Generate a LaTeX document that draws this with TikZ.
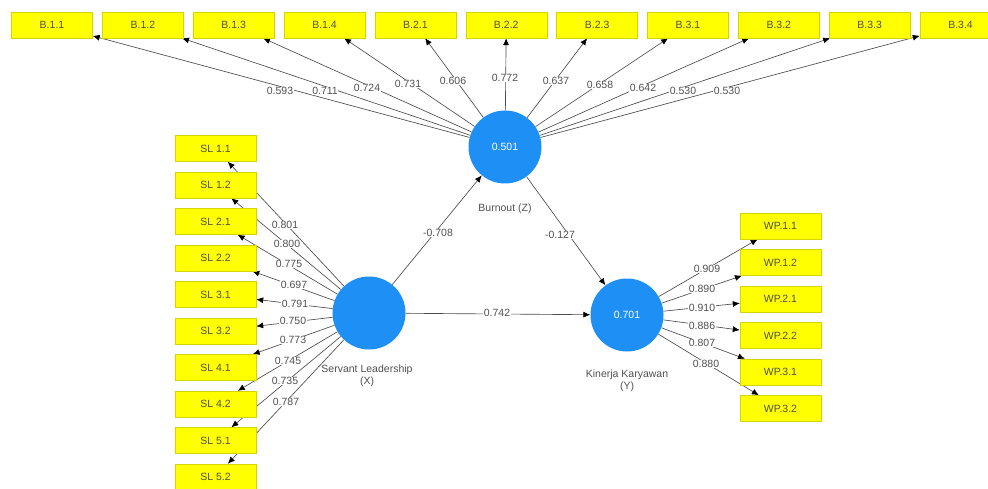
\documentclass[tikz,border=0pt]{standalone}
\usepackage{fontspec}
\setmainfont{Liberation Sans}
\usetikzlibrary{arrows.meta,backgrounds,calc}
\definecolor{latent}{RGB}{30,143,245}
\definecolor{indfill}{RGB}{255,255,0}
\definecolor{indline}{RGB}{212,212,0}
\definecolor{wirecol}{RGB}{75,75,75}
\definecolor{txt}{RGB}{80,80,80}
\newcommand{\smallfont}{\fontsize{10.5}{12.5}\selectfont}
\begin{document}
\begin{tikzpicture}[x=1pt,y=-1pt,
  ind/.style={draw=indline, fill=indfill, line width=0.4pt, minimum width=81pt,
    minimum height=26pt, inner sep=0pt, text=txt, font=\smallfont},
  lv/.style={circle, fill=latent, minimum size=73pt, inner sep=0pt, text=white, font=\smallfont},
  wire/.style={draw=wirecol, line width=0.65pt, -{Latex[length=7pt,width=6pt,color=black]}},
  lbl/.style={fill=white, inner sep=0.6pt, text=txt, font=\smallfont},
  lvname/.style={text=txt, align=center, font=\smallfont, inner sep=0pt}]
\useasboundingbox (0,0) rectangle (988,489);

% latent variables
\node[lv] (bz) at (505,147) {0.501};
\node[lv] (sl) at (369,313) {};
\node[lv] (ky) at (627,315) {0.701};

\node[lvname] (bzname) at (505,209) {Burnout (Z)};
\node[lvname] (slname) at (367,376) {Servant Leadership\\(X)};
\node[lvname] (kyname) at (627,381) {Kinerja Karyawan\\(Y)};

% Burnout indicators
\foreach \n/\t [count=\i from 0] in {B11/B.1.1,B12/B.1.2,B13/B.1.3,B14/B.1.4,B21/B.2.1,B22/B.2.2,
    B23/B.2.3,B31/B.3.1,B32/B.3.2,B33/B.3.3,B34/B.3.4}
  \node[ind] (\n) at ({52+90.85*\i},25) {\t};

% Servant Leadership indicators
\foreach \n/\t [count=\i from 0] in {S11/SL 1.1,S12/SL 1.2,S21/SL 2.1,S22/SL 2.2,S31/SL 3.1,
    S32/SL 3.2,S41/SL 4.1,S42/SL 4.2,S51/SL 5.1,S52/SL 5.2}
  \node[ind] (\n) at (215.5,{148.5+36.5*\i}) {\t};

% Kinerja Karyawan indicators
\foreach \n/\t [count=\i from 0] in {W11/WP.1.1,W12/WP.1.2,W21/WP.2.1,W22/WP.2.2,W31/WP.3.1,W32/WP.3.2}
  \node[ind] (\n) at (780.5,{226+36.5*\i}) {\t};

% connectors behind the boxes
\begin{scope}[on background layer]
  \foreach \n in {B11,B12,B13,B14,B21,B22,B23,B31,B32,B33,B34}
    \draw[wire] (bz) -- (\n);
  \foreach \n in {S11,S12,S21,S22,S31,S32,S41,S42,S51,S52}
    \draw[wire] (sl) -- (\n);
  \foreach \n in {W11,W12,W21,W22,W31,W32}
    \draw[wire] (ky) -- (\n);
  \draw[wire] (sl) -- (bz);
  \draw[wire] (bz) -- (ky);
  \draw[wire] (sl) -- (ky);
\end{scope}

% outer loadings, Burnout
\node[lbl] (lb11) at (280,91) {0.593};
\node[lbl] (lb12) at (325,91) {0.711};
\node[lbl] (lb13) at (367,88) {0.724};
\node[lbl] (lb14) at (408,84) {0.731};
\node[lbl] (lb21) at (453,81) {0.606};
\node[lbl] (lb22) at (505,78) {0.772};
\node[lbl] (lb23) at (556,81) {0.637};
\node[lbl] (lb31) at (600,85) {0.658};
\node[lbl] (lb32) at (643,88) {0.642};
\node[lbl] (lb33) at (683,91) {0.530};
\node[lbl] (lb34) at (727,91) {0.530};

% outer loadings, Servant Leadership
\node[lbl] (ls11) at (285,225) {0.801};
\node[lbl] (ls12) at (287,244) {0.800};
\node[lbl] (ls21) at (289,264) {0.775};
\node[lbl] (ls22) at (294,285) {0.697};
\node[lbl] (ls31) at (295,304) {0.791};
\node[lbl] (ls32) at (293,321) {0.750};
\node[lbl] (ls41) at (293,340) {0.773};
\node[lbl] (ls42) at (288,361) {0.745};
\node[lbl] (ls51) at (285,381) {0.735};
\node[lbl] (ls52) at (286,402) {0.787};

% outer loadings, Kinerja Karyawan
\node[lbl] (lw11) at (707,269) {0.909};
\node[lbl] (lw12) at (702,289) {0.890};
\node[lbl] (lw21) at (702,308) {0.910};
\node[lbl] (lw22) at (702,326) {0.886};
\node[lbl] (lw31) at (702,343) {0.807};
\node[lbl] (lw32) at (706,364) {0.880};

% path coefficients
\node[lbl] (pslbz) at (438,233) {-0.708};
\node[lbl] (pbzky) at (560,235) {-0.127};
\node[lbl] (pslky) at (497,313) {0.742};
\end{tikzpicture}
\end{document}
